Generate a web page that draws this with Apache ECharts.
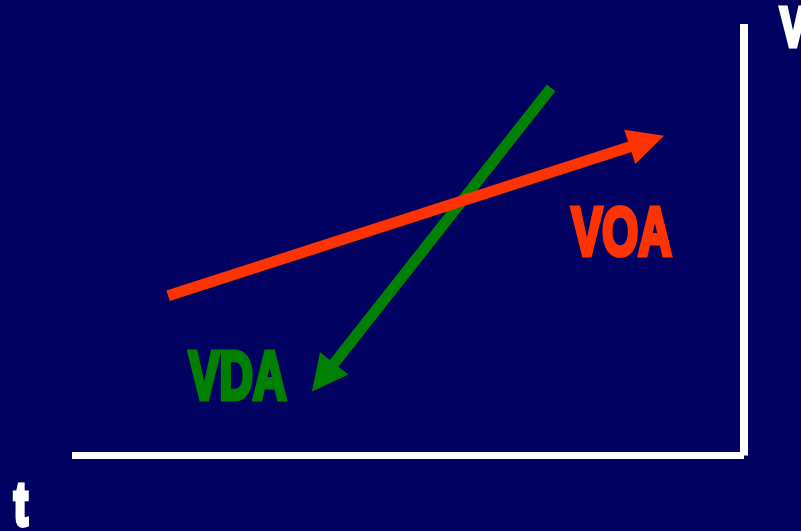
<!DOCTYPE html>
<html>
<head>
<meta charset="utf-8">
<script src="https://cdn.jsdelivr.net/npm/echarts@6/dist/echarts.min.js"></script>
<style>
  html, body { margin: 0; padding: 0; background: #000060; }
  #chart { width: 801px; height: 531px; }
</style>
</head>
<body>
<div id="chart"></div>
<script>
// Data (axis units: 0..100 on both axes)
const arrowNames = ['VDA', 'VOA'];
const arrowStart = [[71.3, 85.2], [14.3, 37.0]];
const arrowEnd = [[35.7, 14.8], [88.1, 74.1]];
const axisNames = ['t', 'V'];

const chart = echarts.init(document.getElementById('chart'), null, { renderer: 'canvas' });

function arrowRender(color) {
  return function (params, api) {
    const s = api.coord([api.value(0), api.value(1)]);
    const e = api.coord([api.value(2), api.value(3)]);
    const dx = e[0] - s[0], dy = e[1] - s[1];
    const len = Math.sqrt(dx * dx + dy * dy);
    const ux = dx / len, uy = dy / len;
    const headLen = 36, headHalf = 18;
    const bx = e[0] - ux * headLen, by = e[1] - uy * headLen;
    const px = -uy, py = ux;
    return {
      type: 'group',
      children: [
        {
          type: 'line',
          shape: { x1: s[0], y1: s[1], x2: bx + ux * 2, y2: by + uy * 2 },
          style: { stroke: color, lineWidth: 11, lineCap: 'butt' }
        },
        {
          type: 'polygon',
          shape: { points: [
            [e[0], e[1]],
            [bx + px * headHalf, by + py * headHalf],
            [bx - px * headHalf, by - py * headHalf]
          ] },
          style: { fill: color }
        }
      ]
    };
  };
}

const fontFam = 'Liberation Sans';

function label(text, x, y, sx, size, color, sw) {
  return {
    type: 'text', x: x, y: y, scaleX: sx,
    style: {
      text: text, x: 0, y: 0, align: 'center', verticalAlign: 'middle',
      fill: color, stroke: color, lineWidth: sw, lineJoin: 'miter', miterLimit: 2,
      fontFamily: fontFam, fontWeight: 'bold', fontSize: size
    }
  };
}

const option = {
  backgroundColor: '#000060',
  animation: false,
  grid: { left: 72, right: 57, top: 24, bottom: 75.5 },
  xAxis: {
    type: 'value', min: 0, max: 100,
    axisLine: { show: true, lineStyle: { color: '#ffffff', width: 7, cap: 'butt' } },
    axisTick: { show: false }, axisLabel: { show: false }, splitLine: { show: false }
  },
  yAxis: {
    type: 'value', min: 0, max: 100, position: 'right',
    axisLine: { show: true, onZero: false, lineStyle: { color: '#ffffff', width: 8, cap: 'butt' } },
    axisTick: { show: false }, axisLabel: { show: false }, splitLine: { show: false }
  },
  series: [
    {
      name: arrowNames[0], type: 'custom', clip: false,
      renderItem: arrowRender('#008000'),
      data: [[arrowStart[0][0], arrowStart[0][1], arrowEnd[0][0], arrowEnd[0][1]]],
      encode: { x: [0, 2], y: [1, 3] }
    },
    {
      name: arrowNames[1], type: 'custom', clip: false,
      renderItem: arrowRender('#ff3300'),
      data: [[arrowStart[1][0], arrowStart[1][1], arrowEnd[1][0], arrowEnd[1][1]]],
      encode: { x: [0, 2], y: [1, 3] }
    }
  ],
  graphic: [
    label(arrowNames[1], 621.5, 236, 0.68, 68, '#ff3300', 5),
    label(arrowNames[0], 237.5, 380, 0.68, 68, '#008000', 5),
    label(axisNames[1], 793, 31, 0.68, 56, '#ffffff', 5),
    label(axisNames[0], 21, 508, 0.68, 61, '#ffffff', 5)
  ]
};
chart.setOption(option);
</script>
</body>
</html>
